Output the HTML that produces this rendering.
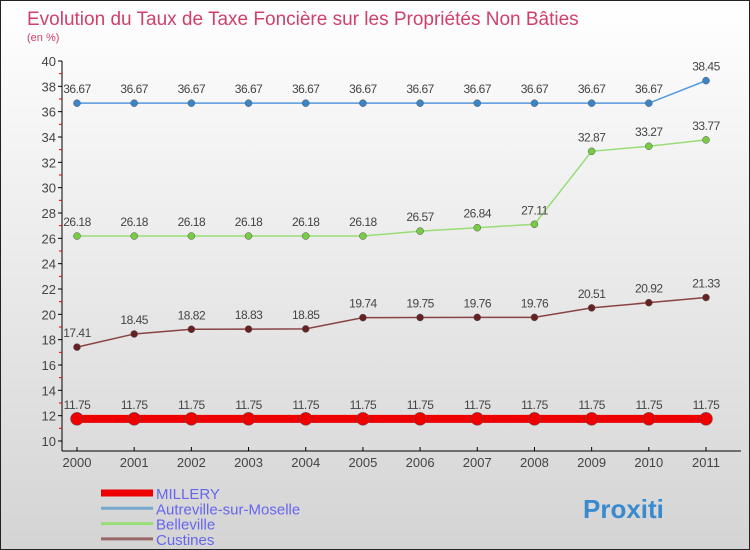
<!DOCTYPE html>
<html><head><meta charset="utf-8"><style>
body{margin:0}
#c{width:750px;height:550px;position:relative;overflow:hidden;box-sizing:border-box;border:1px solid #222;background:linear-gradient(#ffffff,#d4d4d4);font-family:"Liberation Sans",sans-serif}
</style></head><body>
<div id="c">
<svg id="s" width="750" height="550" style="position:absolute;left:0;top:0">
<text x="26" y="24" font-size="19" fill="#d0406a">Evolution du Taux de Taxe Foncière sur les Propriétés Non Bâties</text>
<text x="26" y="40" font-size="11" fill="#d0406a">(en %)</text>
<line x1="61" y1="60" x2="61" y2="450" stroke="#000"/>
<line x1="61" y1="450" x2="740" y2="450" stroke="#000"/>
<g id="g"></g>
</svg>
</div>
<script>
const years=["2000","2001","2002","2003","2004","2005","2006","2007","2008","2009","2010","2011"];
const yTicks=[10,12,14,16,18,20,22,24,26,28,30,32,34,36,38,40];
const millery=[11.75,11.75,11.75,11.75,11.75,11.75,11.75,11.75,11.75,11.75,11.75,11.75];
const autreville=[36.67,36.67,36.67,36.67,36.67,36.67,36.67,36.67,36.67,36.67,36.67,38.45];
const belleville=[26.18,26.18,26.18,26.18,26.18,26.18,26.57,26.84,27.11,32.87,33.27,33.77];
const custines=[17.41,18.45,18.82,18.83,18.85,19.74,19.75,19.76,19.76,20.51,20.92,21.33];
const NS="http://www.w3.org/2000/svg";
const g=document.getElementById('g');
function X(i){return 76+i*(705-76)/(years.length-1);}
function Y(v){return 440-(v-10)*(380/30);}
function mk(t,a){const e=document.createElementNS(NS,t);for(const k in a)e.setAttribute(k,a[k]);g.appendChild(e);return e;}
yTicks.forEach(v=>{
  const t=mk('line',{x1:57,x2:61,y1:Y(v),y2:Y(v),stroke:'#000'});
  
  
  if(v<40){const m=mk('line',{x1:58,x2:61,y1:Y(v+1),y2:Y(v+1),stroke:'#e00'});
  
  }
  const l=mk('text',{x:55,y:Y(v)+5,'font-size':13,fill:'#444','text-anchor':'end'});
  l.textContent=v;
  
  
});
years.forEach((y,i)=>{
  const t=mk('line',{x1:X(i),x2:X(i),y1:446,y2:450,stroke:'#000'});
  
  
  const l=mk('text',{x:X(i),y:466,'font-size':13,fill:'#444','text-anchor':'middle'});
  l.textContent=y;
  
  
});
function series(vals,color,dot,w,r,name){
  const p=mk('polyline',{points:vals.map((v,i)=>X(i)+','+Y(v)).join(' '),fill:'none',stroke:color,'stroke-width':w});
  
  
  vals.forEach((v,i)=>{
    const c=mk('circle',{cx:X(i),cy:Y(v),r:r,fill:dot,stroke:'#555','stroke-width':0.5});
    
    
    const t=mk('text',{x:X(i),y:Y(v)-10,'font-size':12,fill:'#444','text-anchor':'middle','letter-spacing':'-0.5'});
    t.textContent=v.toFixed(2);
    
    
  });
}
series(autreville,'#5599dd','#3a85c8',1.5,3.5,'autreville');
series(belleville,'#99dd77','#77cc44',1.5,3.5,'belleville');
series(custines,'#884444','#662222',1.5,3.5,'custines');
series(millery,'#ee0000','#ee0000',8,6.5,'millery');
const legNames=["MILLERY","Autreville-sur-Moselle","Belleville","Custines"];
const legColors=["#ee0000","#77aacc","#99dd77","#996666"];
const legW=[7,3,3,3];
legNames.forEach((n,i)=>{
  const y=492+i*15.3;
  const l=mk('line',{x1:100,x2:152,y1:y,y2:y,stroke:legColors[i],'stroke-width':legW[i]});
  
  
  const t=mk('text',{x:155,y:y+6,'font-size':15,fill:'#6666ee'});
  t.textContent=n;
  
  
});
const b=mk('text',{x:582,y:517,'font-size':26,'font-weight':'bold',fill:'#3a8ad0'});
b.textContent="Proxiti";


</script>
</body></html>
